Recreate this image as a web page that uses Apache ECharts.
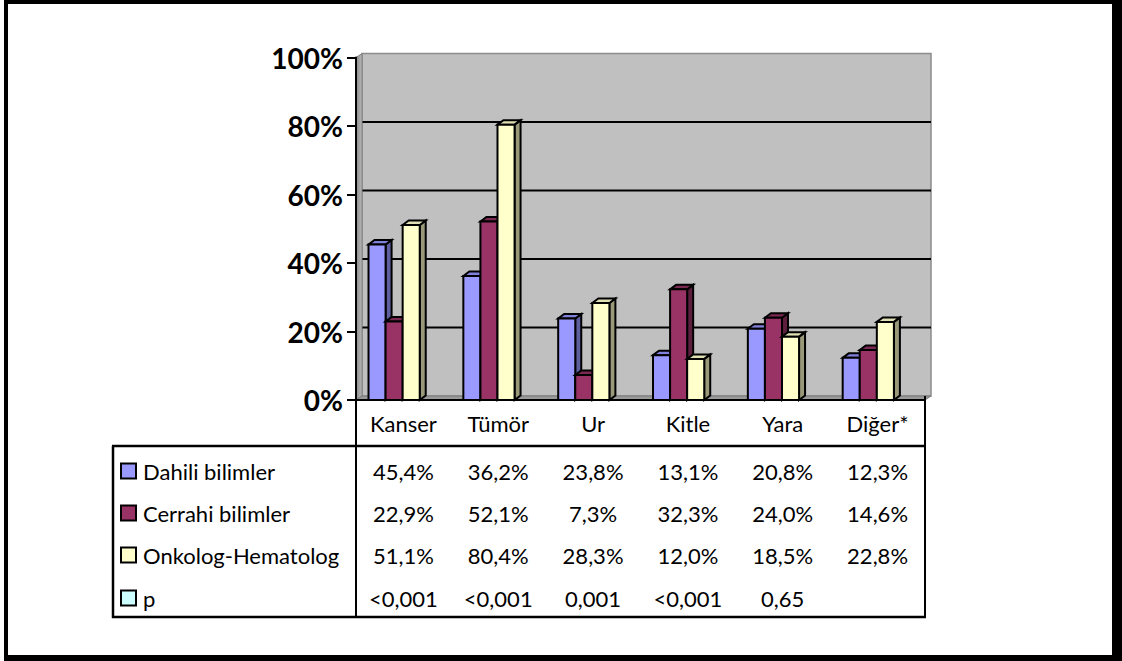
<!DOCTYPE html>
<html>
<head>
<meta charset="utf-8">
<script src="https://cdn.jsdelivr.net/npm/echarts@6/dist/echarts.min.js"></script>
<style>
  html, body { margin: 0; padding: 0; background: #fff; }
  #chart { width: 1122px; height: 661px; }
</style>
</head>
<body>
<div id="chart"></div>
<script>
// Categories and series values (percent)
const categories = ['Kanser', 'Tümör', 'Ur', 'Kitle', 'Yara', 'Diğer*'];
const seriesNames = ['Dahili bilimler', 'Cerrahi bilimler', 'Onkolog-Hematolog', 'p'];
const dahili = [45.4, 36.2, 23.8, 13.1, 20.8, 12.3];
const cerrahi = [22.9, 52.1, 7.3, 32.3, 24.0, 14.6];
const onkolog = [51.1, 80.4, 28.3, 12.0, 18.5, 22.8];
const pValues = ['<0,001', '<0,001', '0,001', '<0,001', '0,65', ''];
const yTicks = [0, 20, 40, 60, 80, 100];

const FONT = 'Lato, "Open Sans", sans-serif';
const TEXT_SIZE = 22;
// face colours: front, side, top
const palette = [
  { front: '#9999FF', side: '#5F5F9F', top: '#8080DD' },
  { front: '#993366', side: '#5C1F3D', top: '#7A2952' },
  { front: '#FFFFCC', side: '#99997A', top: '#E0E0B4' },
  { front: '#CCFFFF', side: '#7A9999', top: '#B0E0E0' }
];

// 3D depth of the bars and of the back wall
const DX = 6, DY = -4.5;
const WDX = 6, WDY = -4;

const chart = echarts.init(document.getElementById('chart'), null, { renderer: 'svg' });

function fmtPct(v) { return v.toFixed(1).replace('.', ',') + '%'; }

// back wall, side wall, floor and the gridlines drawn on the back wall
function wallRender(params, api) {
  const cs = params.coordSys;
  const x0 = cs.x, x1 = cs.x + cs.width;
  const yb = api.coord([0, 0])[1];
  const yt = api.coord([0, yTicks[yTicks.length - 1]])[1];
  const children = [];
  children.push({
    type: 'rect',
    shape: { x: x0 + WDX, y: yt + WDY, width: x1 - x0, height: yb - yt },
    style: { fill: '#C0C0C0', stroke: '#8C8C8C', lineWidth: 1.5 }
  });
  yTicks.slice(1, -1).forEach(function (t) {
    const y = api.coord([0, t])[1] + WDY;
    children.push({
      type: 'line',
      shape: { x1: x0 + WDX, y1: y, x2: x1 + WDX, y2: y },
      style: { stroke: '#000', lineWidth: 2 }
    });
  });
  children.push({
    type: 'polygon',
    shape: { points: [[x0, yt], [x0 + WDX, yt + WDY], [x0 + WDX, yb + WDY], [x0, yb]] },
    style: {
      fill: new echarts.graphic.LinearGradient(0, 0, 1, 0, [
        { offset: 0, color: '#8A8A8A' }, { offset: 1, color: '#B8B8B8' }
      ]),
      stroke: '#808080', lineWidth: 1
    }
  });
  children.push({
    type: 'polygon',
    shape: { points: [[x0, yb], [x0 + WDX, yb + WDY], [x1 + WDX, yb + WDY], [x1, yb]] },
    style: { fill: '#9A9A9A', stroke: '#7A7A7A', lineWidth: 1 }
  });
  return { type: 'group', children: children };
}

function barRender(sIdx) {
  const col = palette[sIdx];
  return function (params, api) {
    const i = api.value(0), v = api.value(1);
    const top = api.coord([i, v]);
    const base = api.coord([i, 0]);
    const band = api.size([1, 0])[0];
    const w = band * 0.18;
    const left = top[0] - band * 0.368 + sIdx * w;
    const right = left + w;
    const yt = top[1], yb = base[1];
    const stroke = { stroke: '#000', lineWidth: 2, lineJoin: 'miter' };
    return {
      type: 'group',
      children: [
        { type: 'polygon', shape: { points: [[right, yt], [right + DX, yt + DY], [right + DX, yb + DY], [right, yb]] },
          style: Object.assign({ fill: col.side }, stroke) },
        { type: 'polygon', shape: { points: [[left, yt], [left + DX, yt + DY], [right + DX, yt + DY], [right, yt]] },
          style: Object.assign({ fill: col.top }, stroke) },
        { type: 'rect', shape: { x: left, y: yt, width: w, height: yb - yt },
          style: Object.assign({ fill: col.front }, stroke) }
      ]
    };
  };
}

// data table rows under the category axis
const tableRows = [dahili.map(fmtPct), cerrahi.map(fmtPct), onkolog.map(fmtPct), pValues];
const ROW_Y = [471, 513, 555, 598];
const tableData = [];
tableRows.forEach(function (row, r) {
  row.forEach(function (txt, i) { tableData.push([i, 0, r, txt]); });
});

function tableRender(params, api) {
  const i = api.value(0);
  const r = api.value(2);
  const item = tableData[params.dataIndex];
  const x = api.coord([i, 0])[0];
  return {
    type: 'text',
    style: {
      x: x, y: ROW_Y[r], text: item[3],
      font: TEXT_SIZE + 'px ' + FONT, fill: '#000',
      align: 'center', verticalAlign: 'middle'
    }
  };
}

// table frame, legend keys and outer border
const TL = 113, TR = 925, TT = 446, TB = 617, AX = 356, AY = 400;
const graphics = [];
function hLine(x1, x2, y, w) { graphics.push({ type: 'line', z: 10, shape: { x1: x1, y1: y, x2: x2, y2: y }, style: { stroke: '#000', lineWidth: w || 2 } }); }
function vLine(x, y1, y2, w) { graphics.push({ type: 'line', z: 10, shape: { x1: x, y1: y1, x2: x, y2: y2 }, style: { stroke: '#000', lineWidth: w || 2 } }); }
hLine(TL - 1, TR + 1, TT, 2.5);
hLine(TL - 1, TR + 1, TB, 2.5);
vLine(TL, TT, TB + 1, 2.5);
vLine(AX, AY, TB + 1, 2);
vLine(TR, AY - 4, TB + 1, 2);
seriesNames.forEach(function (name, r) {
  graphics.push({ type: 'rect', z: 10, shape: { x: 121, y: ROW_Y[r] - 7.5, width: 15, height: 15 },
    style: { fill: palette[r].front, stroke: '#000', lineWidth: 2 } });
  graphics.push({ type: 'text', z: 10, style: { x: 143, y: ROW_Y[r], text: name, font: TEXT_SIZE + 'px ' + FONT, fill: '#000', verticalAlign: 'middle' } });
});
// outer frame
graphics.push({ type: 'rect', z: 10, shape: { x: 4, y: 0, width: 1117, height: 4 }, style: { fill: '#000' } });
graphics.push({ type: 'rect', z: 10, shape: { x: 4, y: 0, width: 4, height: 661 }, style: { fill: '#000' } });
graphics.push({ type: 'rect', z: 10, shape: { x: 1112, y: 0, width: 10, height: 661 }, style: { fill: '#000' } });
graphics.push({ type: 'rect', z: 10, shape: { x: 4, y: 655, width: 1118, height: 6 }, style: { fill: '#000' } });

const option = {
  backgroundColor: '#fff',
  animation: false,
  grid: { left: AX, right: 1122 - TR, top: 57.5, bottom: 661 - AY, containLabel: false },
  xAxis: {
    type: 'category',
    data: categories,
    z: 5,
    axisLine: { lineStyle: { color: '#000', width: 2 } },
    axisTick: { show: false },
    axisLabel: { fontFamily: FONT, fontSize: TEXT_SIZE, color: '#000', margin: 12 },
    splitLine: { show: false }
  },
  yAxis: {
    type: 'value',
    min: 0, max: 100, interval: 20,
    z: 5,
    axisLine: { show: true, lineStyle: { color: '#000', width: 2 } },
    axisTick: { show: true, length: 9, lineStyle: { color: '#000', width: 2 } },
    axisLabel: { formatter: '{value}%', fontFamily: FONT, fontSize: 28, fontWeight: 'bold', color: '#000', margin: 13 },
    splitLine: { show: false }
  },
  graphic: graphics,
  series: [
    { type: 'custom', name: 'wall', z: 1, silent: true, renderItem: wallRender, data: [[0, 0]] },
    { type: 'custom', name: seriesNames[0], z: 2, renderItem: barRender(0), data: dahili.map(function (v, i) { return [i, v]; }) },
    { type: 'custom', name: seriesNames[1], z: 2, renderItem: barRender(1), data: cerrahi.map(function (v, i) { return [i, v]; }) },
    { type: 'custom', name: seriesNames[2], z: 2, renderItem: barRender(2), data: onkolog.map(function (v, i) { return [i, v]; }) },
    { type: 'custom', name: 'table', z: 3, silent: true, renderItem: tableRender, data: tableData }
  ]
};
chart.setOption(option);
</script>
</body>
</html>
